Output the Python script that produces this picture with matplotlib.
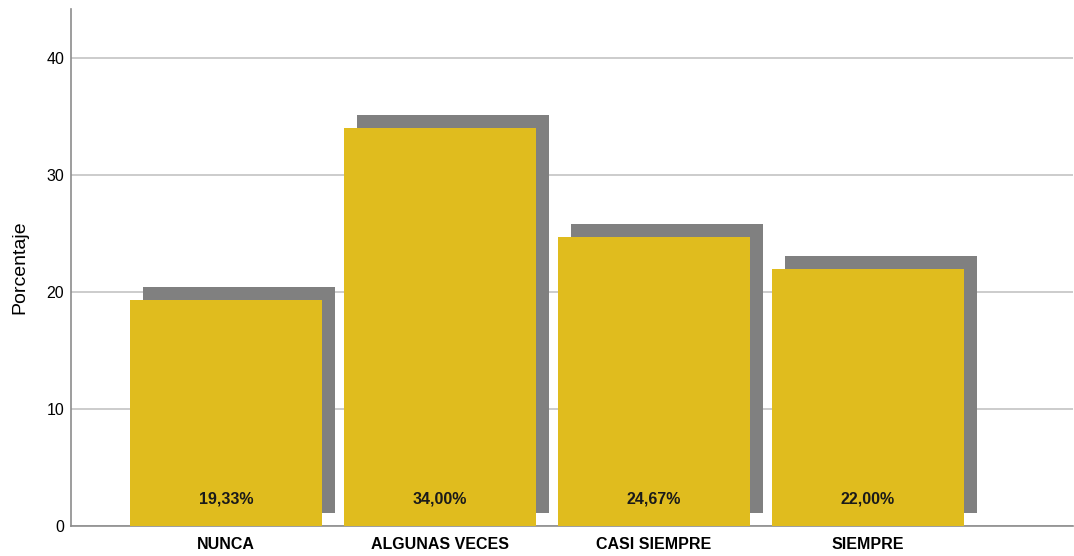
import matplotlib
matplotlib.use("Agg")
import matplotlib.pyplot as plt
import matplotlib.transforms as mtransforms

plt.rcParams['font.family'] = ['Liberation Sans', 'DejaVu Sans']

categorias = ['NUNCA', 'ALGUNAS VECES', 'CASI SIEMPRE', 'SIEMPRE']
porcentajes = [19.33, 34.00, 24.67, 22.00]
etiquetas = ['19,33%', '34,00%', '24,67%', '22,00%']

fig = plt.figure(figsize=(10.74, 5.56), dpi=100)
ax = fig.add_axes([0.0661, 0.054, 0.933, 0.9298])

x = list(range(len(categorias)))
ancho = 0.897

# sombra: la misma barra desplazada 13 px a la derecha y hacia arriba
desplaz = mtransforms.ScaledTranslation(0.13, 0.13, fig.dpi_scale_trans)
sombra = ax.bar(x, porcentajes, width=ancho, color='#808080', zorder=2)
for r in sombra:
    r.set_transform(ax.transData + desplaz)

ax.bar(x, porcentajes, width=ancho, color='#E0BC1E', zorder=3)

for xi, txt in zip(x, etiquetas):
    ax.text(xi, 2.3, txt, ha='center', va='center', fontsize=11.5,
            fontweight='bold', color='#1a1a1a', zorder=4)

ax.set_xlim(-0.724, 3.958)
ax.set_ylim(0, 44.2)
ax.set_yticks([0, 10, 20, 30, 40])
ax.set_xticks(x)
ax.set_xticklabels(categorias, fontsize=12, fontweight='bold')
ax.tick_params(axis='both', length=0, labelsize=11.5)
ax.tick_params(axis='y', pad=5)
ax.tick_params(axis='x', pad=8)
ax.yaxis.grid(True, color='#C4C4C4', linewidth=1.2, zorder=0)
ax.set_axisbelow(True)

for s in ['top', 'right']:
    ax.spines[s].set_visible(False)
for s in ['left', 'bottom']:
    ax.spines[s].set_color('#8C8C8C')
    ax.spines[s].set_linewidth(1.2)

ax.set_ylabel('Porcentaje', fontsize=14, labelpad=13)

fig.savefig('out.png', dpi=100)
